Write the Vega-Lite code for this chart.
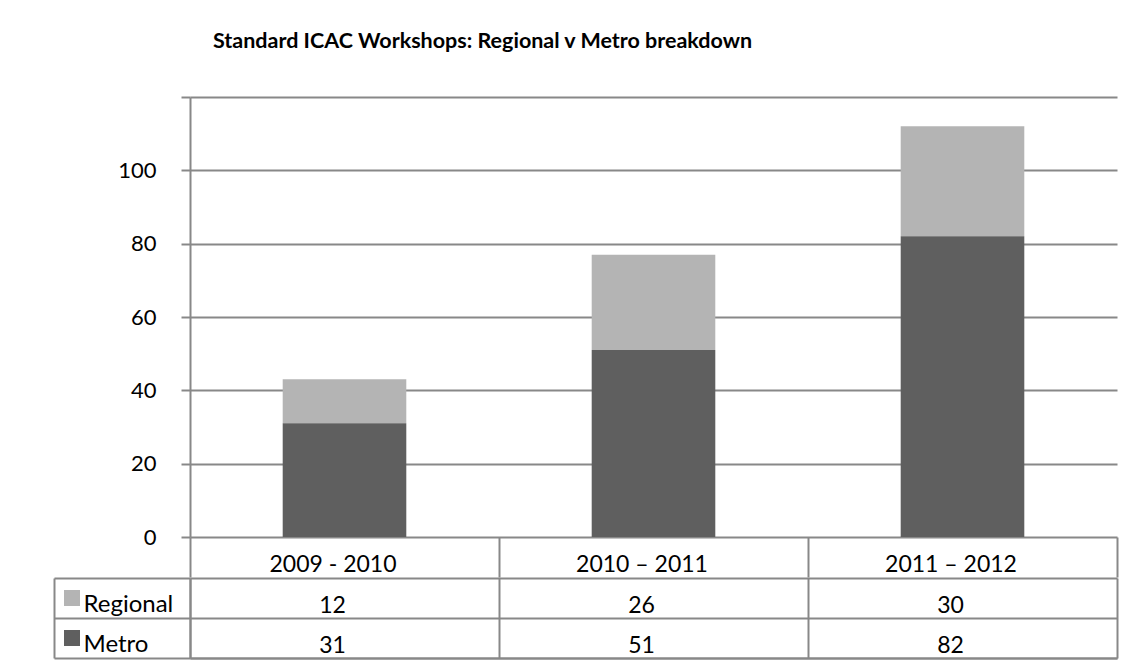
{
  "$schema": "https://vega.github.io/schema/vega-lite/v6.json",
  "padding": {"left": 53, "top": 30, "right": 10, "bottom": 5},
  "background": "white",
  "config": {
    "font": "Lato",
    "view": {"stroke": null},
    "axis": {"labelFont": "Lato", "labelColor": "#000000"},
    "legend": {"labelFont": "Lato"}
  },
  "datasets": {
    "d": [
      {"period": "2009 - 2010", "series": "Regional", "count": 12},
      {"period": "2009 - 2010", "series": "Metro", "count": 31},
      {"period": "2010 – 2011", "series": "Regional", "count": 26},
      {"period": "2010 – 2011", "series": "Metro", "count": 51},
      {"period": "2011 – 2012", "series": "Regional", "count": 30},
      {"period": "2011 – 2012", "series": "Metro", "count": 82}
    ]
  },
  "resolve": {"scale": {"color": "independent"}, "legend": {"color": "independent"}},
  "spacing": -20,
  "vconcat": [
    {
      "width": 927,
      "height": 440,
      "data": {"name": "d"},
      "title": {
        "text": "Standard ICAC Workshops: Regional v Metro breakdown",
        "anchor": "start",
        "frame": "group",
        "dx": 23,
        "offset": 27,
        "baseline": "alphabetic",
        "fontSize": 21.5,
        "fontWeight": "bold",
        "font": "Lato",
        "color": "#000000"
      },
      "mark": {"type": "bar", "width": {"band": 0.4}},
      "encoding": {
        "x": {
          "field": "period",
          "type": "nominal",
          "sort": null,
          "scale": {"paddingInner": 0, "paddingOuter": 0},
          "axis": {
            "title": null,
            "labelAngle": 0,
            "tickBand": "extent",
            "tickSize": 40,
            "tickColor": "#888888",
            "tickWidth": 2,
            "domain": false,
            "grid": false,
            "labelFontSize": 23,
            "labelPadding": -6,
            "labelBaseline": "alphabetic",
            "labelOffset": -12,
            "labelColor": "#000000"
          }
        },
        "y": {
          "field": "count",
          "type": "quantitative",
          "stack": "zero",
          "scale": {"domain": [0, 120], "nice": false},
          "axis": {
            "title": null,
            "values": [0, 20, 40, 60, 80, 100, 120],
            "labelExpr": "datum.value == 120 ? '' : datum.label",
            "tickSize": 9,
            "tickColor": "#888888",
            "tickWidth": 2,
            "domainColor": "#888888",
            "domainWidth": 2,
            "gridColor": "#888888",
            "gridWidth": 2,
            "labelPadding": 25,
            "labelFontSize": 22,
            "labelColor": "#000000"
          }
        },
        "color": {
          "field": "series",
          "type": "nominal",
          "scale": {"domain": ["Regional", "Metro"], "range": ["#b4b4b4", "#5f5f5f"]},
          "legend": null
        },
        "order": {"field": "series", "sort": "ascending"}
      }
    },
    {
      "width": 927,
      "height": 80,
      "data": {"name": "d"},
      "layer": [
        {
          "mark": {"type": "text", "fontSize": 23, "color": "#000000", "baseline": "alphabetic", "dy": 15, "dx": -12, "font": "Lato"},
          "encoding": {
            "x": {
              "field": "period",
              "type": "nominal",
              "sort": null,
              "scale": {"paddingInner": 0, "paddingOuter": 0},
              "axis": {
                "title": null,
                "labels": false,
                "ticks": false,
                "domain": true,
                "domainColor": "#888888",
                "domainWidth": 2,
                "grid": true,
                "gridColor": "#888888",
                "gridWidth": 2,
                "tickBand": "extent"
              }
            },
            "y": {
              "field": "series",
              "type": "nominal",
              "sort": ["Regional", "Metro"],
              "scale": {"paddingInner": 0, "paddingOuter": 0},
              "axis": {
                "title": null,
                "labels": true,
                "labelAlign": "left",
                "labelBaseline": "alphabetic",
                "labelOffset": 13,
                "labelPadding": -29,
                "labelFontSize": 24,
                "labelColor": "#000000",
                "ticks": true,
                "tickSize": 136,
                "tickColor": "#888888",
                "tickWidth": 2,
                "tickBand": "extent",
                "domain": true,
                "domainColor": "#888888",
                "domainWidth": 2,
                "grid": true,
                "gridColor": "#888888",
                "gridWidth": 2
              }
            },
            "text": {"field": "count", "type": "quantitative"}
          }
        },
        {
          "mark": {"type": "square", "opacity": 0},
          "encoding": {
            "x": {"field": "period", "type": "nominal", "sort": null},
            "y": {
              "field": "series",
              "type": "nominal",
              "sort": ["Regional", "Metro"],
              "axis": {
                "orient": "left",
                "offset": 136,
                "title": null,
                "labels": false,
                "ticks": false,
                "grid": false,
                "domain": true,
                "domainColor": "#888888",
                "domainWidth": 2
              }
            },
            "color": {
              "field": "series",
              "type": "nominal",
              "scale": {"domain": ["Regional", "Metro"], "range": ["#b4b4b4", "#5f5f5f"]},
              "legend": {
                "orient": "none",
                "legendX": -126,
                "legendY": 12,
                "title": null,
                "symbolType": "square",
                "symbolSize": 256,
                "symbolStrokeWidth": 0,
                "symbolOpacity": 1,
                "labelExpr": "''",
                "labelFontSize": 1,
                "labelOffset": 0,
                "rowPadding": 24,
                "padding": 0
              }
            }
          }
        }
      ],
      "resolve": {"axis": {"y": "independent"}}
    }
  ]
}
